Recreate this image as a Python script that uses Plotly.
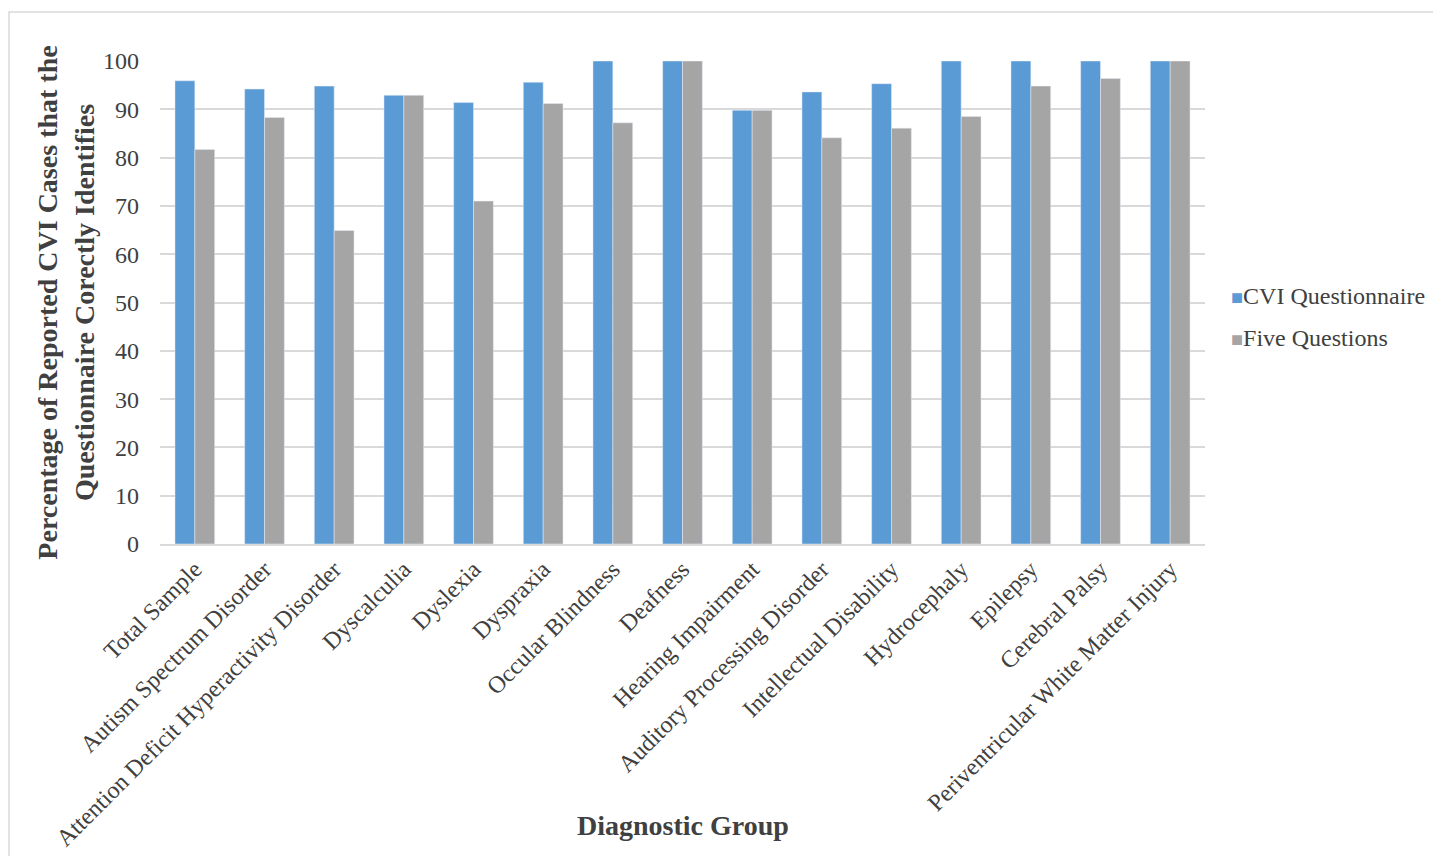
import plotly.graph_objects as go

categories = [
    "Total Sample", "Autism Spectrum Disorder",
    "Attention Deficit Hyperactivity Disorder", "Dyscalculia", "Dyslexia",
    "Dyspraxia", "Occular Blindness", "Deafness", "Hearing Impairment",
    "Auditory Processing Disorder", "Intellectual Disability", "Hydrocephaly",
    "Epilepsy", "Cerebral Palsy", "Periventricular White Matter Injury",
]
cvi_questionnaire = [95.9, 94.2, 94.8, 92.9, 91.4, 95.6, 100, 100, 89.8,
                     93.6, 95.3, 100, 100, 100, 100]
five_questions = [81.7, 88.3, 64.9, 92.9, 71.0, 91.2, 87.2, 100, 89.8,
                  84.1, 86.1, 88.5, 94.8, 96.4, 100]
y_ticks = [0, 10, 20, 30, 40, 50, 60, 70, 80, 90, 100]
series_names = ["CVI Questionnaire", "Five Questions"]
series_colors = ["#5B9BD5", "#A5A5A5"]

FONT = "Liberation Serif, Times New Roman, serif"
TEXT = "#404040"

fig = go.Figure()
for name, vals, color in zip(series_names, [cvi_questionnaire, five_questions], series_colors):
    fig.add_trace(go.Bar(x=categories, y=vals, name=name, marker_color=color))

# legend drawn as text entries with a coloured square in front
legend_notes = []
for i, (name, color) in enumerate(zip(series_names, series_colors)):
    legend_notes.append(dict(
        text=f"<span style='color:{color};font-size:20px'>■</span>{name}",
        xref="paper", yref="paper", x=1.023, y=0.513 - i * 0.087,
        xanchor="left", yanchor="middle", showarrow=False,
        font=dict(family=FONT, size=24, color=TEXT)))

fig.update_layout(
    width=1433, height=856,
    margin=dict(l=160, r=228, t=61, b=312, autoexpand=False),
    paper_bgcolor="white", plot_bgcolor="white",
    barmode="group", bargap=0.43, bargroupgap=0,
    font=dict(family=FONT, color=TEXT),
    showlegend=False,
    xaxis=dict(tickangle=-45, tickfont=dict(family=FONT, size=24, color=TEXT),
               showline=True, linecolor="#d9d9d9", linewidth=1.5,
               ticks="", showgrid=False, automargin=False),
    yaxis=dict(range=[0, 100], tickvals=y_ticks,
               tickfont=dict(family=FONT, size=24, color=TEXT),
               showgrid=True, gridcolor="#d9d9d9", gridwidth=1.5,
               zeroline=False, ticks="", ticklen=0, ticklabelstandoff=20,
               automargin=False,
               title=dict(text="<b>Percentage of Reported CVI Cases that the<br>Questionnaire Corectly Identifies</b>",
                          font=dict(family=FONT, size=28, color=TEXT),
                          standoff=0)),
    annotations=[dict(text="<b>Diagnostic Group</b>", xref="paper", yref="paper",
                      x=0.5, y=-0.582, xanchor="center", yanchor="middle",
                      showarrow=False,
                      font=dict(family=FONT, size=28, color=TEXT))] + legend_notes,
    shapes=[dict(type="rect", xref="paper", yref="paper",
                 x0=-0.1445, x1=1.3, y0=-0.7, y1=1.1015,
                 line=dict(color="#d9d9d9", width=1.5), layer="below")],
)

fig.write_html("out.html")
